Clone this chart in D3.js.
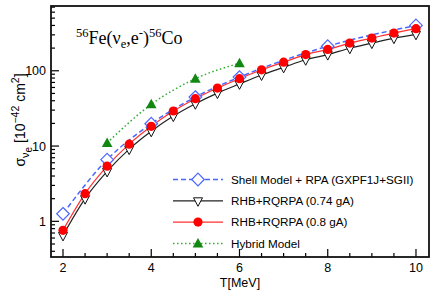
<!DOCTYPE html>
<html>
<head>
<meta charset="utf-8">
<script src="https://cdn.jsdelivr.net/npm/d3@7"></script>
<style>
  body { margin: 0; background: #fff; }
  svg { display: block; }
</style>
</head>
<body>
<svg id="chart"></svg>
<script>
// incident neutrino energy T [MeV]
const energies = [2, 2.5, 3, 3.5, 4, 4.5, 5, 5.5, 6, 6.5, 7, 7.5, 8, 8.5, 9, 9.5, 10];
// RHB+RQRPA (0.8 gA)
const rqrpa080 = [0.76, 2.33, 5.4, 10.6, 18.3, 29.2, 42.6, 58.9, 78.5, 103, 130, 164, 192, 233, 272, 317, 362];
// RHB+RQRPA (0.74 gA)
const rqrpa074 = [0.65, 2.0, 4.6, 9.1, 15.7, 25, 36.5, 50.5, 67, 88, 111, 140, 164, 199, 233, 271, 305];
// Shell Model + RPA (GXPF1J+SGII)
const shellEnergies = [2, 3, 4, 5, 6, 8, 10];
const shellValues = [1.26, 6.6, 19.8, 44.8, 82.4, 212, 400];
// Hybrid Model
const hybridEnergies = [3, 4, 5, 6];
const hybridValues = [11.0, 35.8, 78.5, 126];

const xTicks = [2, 4, 6, 8, 10];
const yTicks = [1, 10, 100];

const width = 436;
const height = 308;
const margin = { top: 6, right: 7, bottom: 51, left: 51 };

const svg = d3.select('#chart').attr('width', width).attr('height', height);

const xScale = d3
  .scaleLinear()
  .domain([1.728, 10.295])
  .range([margin.left, width - margin.right]);
const yScale = d3
  .scaleLog()
  .domain([0.336, 725])
  .range([height - margin.bottom, margin.top]);

const zip = (xs, ys) => xs.map((x, i) => ({ x, y: ys[i] }));

const lineFunc = d3
  .line()
  .x(d => xScale(d.x))
  .y(d => yScale(d.y))
  .curve(d3.curveMonotoneX);

const series = [
  {
    name: 'Shell Model + RPA (GXPF1J+SGII)',
    data: zip(shellEnergies, shellValues),
    stroke: '#4a66ff',
    dash: '5,3',
    width: 1.5,
    marker: 'diamond'
  },
  {
    name: 'RHB+RQRPA (0.74 gA)',
    data: zip(energies, rqrpa074),
    stroke: '#222',
    dash: null,
    width: 1.2,
    marker: 'tridown'
  },
  {
    name: 'Hybrid Model',
    data: zip(hybridEnergies, hybridValues),
    stroke: '#33aa33',
    dash: '1.5,2.5',
    width: 1.5,
    marker: 'triup'
  },
  {
    name: 'RHB+RQRPA (0.8 gA)',
    data: zip(energies, rqrpa080),
    stroke: '#ff3030',
    dash: null,
    width: 1.2,
    marker: 'circle'
  }
];

function drawMarker(g, type, cx, cy) {
  if (type === 'circle') {
    g.append('circle')
      .attr('cx', cx).attr('cy', cy).attr('r', 4.6)
      .attr('fill', '#ff0000');
  } else if (type === 'diamond') {
    g.append('path')
      .attr('d', `M${cx},${cy - 6.3}L${cx + 6.3},${cy}L${cx},${cy + 6.3}L${cx - 6.3},${cy}Z`)
      .attr('fill', '#fff').attr('stroke', '#4a66ff').attr('stroke-width', 1.2);
  } else if (type === 'tridown') {
    g.append('path')
      .attr('d', `M${cx - 4.5},${cy - 3}L${cx + 4.5},${cy - 3}L${cx},${cy + 5.5}Z`)
      .attr('fill', '#fff').attr('stroke', '#111').attr('stroke-width', 1);
  } else if (type === 'triup') {
    g.append('path')
      .attr('d', `M${cx - 5.3},${cy + 4}L${cx + 5.3},${cy + 4}L${cx},${cy - 5.5}Z`)
      .attr('fill', '#118811');
  }
}

// plot lines and markers
const plot = svg.append('g');
series.forEach(s => {
  plot.append('path')
    .attr('d', lineFunc(s.data))
    .attr('fill', 'none')
    .attr('stroke', s.stroke)
    .attr('stroke-width', s.width)
    .attr('stroke-dasharray', s.dash);
});
series.forEach(s => {
  const g = plot.append('g');
  s.data.forEach(d => drawMarker(g, s.marker, xScale(d.x), yScale(d.y)));
});

// axes with inward ticks
const x0 = margin.left;
const x1 = width - margin.right;
const y0 = height - margin.bottom;
const y1 = margin.top;
const axes = svg.append('g').attr('stroke', '#000');

d3.range(2, 10.01, 0.5).forEach(t => {
  const major = Number.isInteger(t / 2);
  axes.append('line')
    .attr('x1', xScale(t)).attr('x2', xScale(t))
    .attr('y1', y0).attr('y2', y0 - (major ? 8 : 4))
    .attr('stroke-width', 1.2);
});

const minorY = [];
[0.1, 1, 10, 100].forEach(dec => {
  for (let k = 1; k <= 9; k++) minorY.push(dec * k);
});
minorY
  .filter(v => v >= 0.336 && v <= 725)
  .forEach(v => {
    const major = yTicks.includes(Math.round(v * 1000) / 1000);
    axes.append('line')
      .attr('x1', x0).attr('x2', x0 + (major ? 8 : 4))
      .attr('y1', yScale(v)).attr('y2', yScale(v))
      .attr('stroke-width', 1.2);
  });

svg.append('rect')
  .attr('x', x0).attr('y', y1)
  .attr('width', x1 - x0).attr('height', y0 - y1)
  .attr('fill', 'none').attr('stroke', '#111').attr('stroke-width', 1.8);

const labelFont = 'Liberation Sans, Arial, sans-serif';

svg.append('g')
  .selectAll('text')
  .data(xTicks)
  .join('text')
  .attr('x', d => xScale(d))
  .attr('y', 272)
  .attr('text-anchor', 'middle')
  .attr('font-family', labelFont)
  .attr('font-size', 12.5)
  .text(d => d);

svg.append('g')
  .selectAll('text')
  .data(yTicks)
  .join('text')
  .attr('x', 46)
  .attr('y', d => yScale(d) + 4.5)
  .attr('text-anchor', 'end')
  .attr('font-family', labelFont)
  .attr('font-size', 12.5)
  .text(d => d);

svg.append('text')
  .attr('x', 240)
  .attr('y', 287)
  .attr('text-anchor', 'middle')
  .attr('font-family', labelFont)
  .attr('font-size', 12.5)
  .text('T[MeV]');

// y axis title
const yTitle = svg.append('text')
  .attr('transform', 'translate(25,120) rotate(-90)')
  .attr('text-anchor', 'middle')
  .attr('font-family', labelFont)
  .attr('font-size', 14);
yTitle.append('tspan').text('σ');
yTitle.append('tspan').attr('dy', 3.5).attr('font-size', 11).text('ν');
yTitle.append('tspan').attr('dy', 3).attr('font-size', 10).text('e');
yTitle.append('tspan').attr('dy', -6.5).text(' [10');
yTitle.append('tspan').attr('dy', -6).attr('font-size', 10.5).text('−42');
yTitle.append('tspan').attr('dy', 6).text(' cm');
yTitle.append('tspan').attr('dy', -6).attr('font-size', 10.5).text('2');
yTitle.append('tspan').attr('dy', 6).text(']');

// reaction annotation
const note = svg.append('text')
  .attr('x', 76)
  .attr('y', 44)
  .attr('font-family', 'Liberation Serif, Times New Roman, serif')
  .attr('font-size', 18);
note.append('tspan').attr('dy', -7).attr('font-size', 12.5).text('56');
note.append('tspan').attr('dy', 7).text('Fe(ν');
note.append('tspan').attr('dy', 4).attr('font-size', 12.5).text('e');
note.append('tspan').attr('dy', -4).text(',e');
note.append('tspan').attr('dy', -7).attr('font-size', 12.5).text('-');
note.append('tspan').attr('dy', 7).text(')');
note.append('tspan').attr('dy', -7).attr('font-size', 12.5).text('56');
note.append('tspan').attr('dy', 7).text('Co');

// legend
const legendOrder = [0, 1, 3, 2];
const legend = svg.append('g');
legendOrder.forEach((idx, row) => {
  const s = series[idx];
  const ly = 179.5 + row * 21.3;
  legend.append('line')
    .attr('x1', 173).attr('x2', 223)
    .attr('y1', ly).attr('y2', ly)
    .attr('stroke', s.stroke)
    .attr('stroke-width', s.width)
    .attr('stroke-dasharray', s.dash);
  drawMarker(legend, s.marker, 198, ly);
  legend.append('text')
    .attr('x', 231)
    .attr('y', ly + 4.3)
    .attr('font-family', labelFont)
    .attr('font-size', 11.7)
    .text(s.name);
});
</script>
</body>
</html>
